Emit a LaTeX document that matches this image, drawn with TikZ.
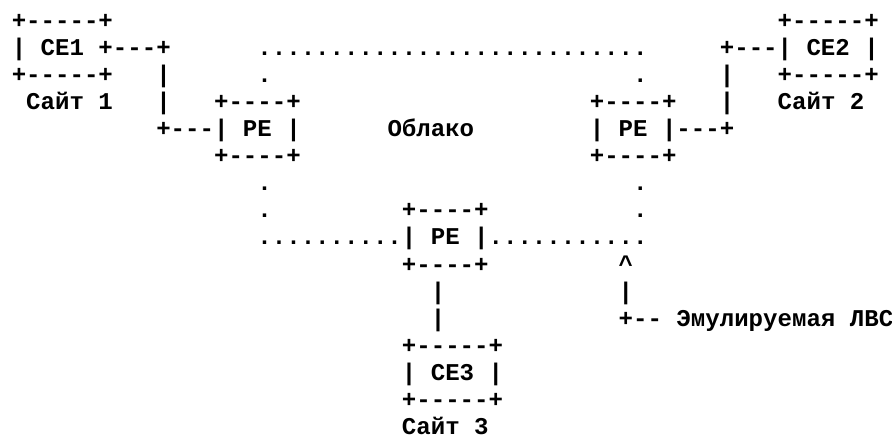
\documentclass[tikz,border=0pt]{standalone}
\usepackage{fontspec}
\setmonofont{Liberation Mono}[Ligatures=ResetAll]
\begin{document}
\begin{tikzpicture}[x=14.45pt,y=-27.09pt,
  txt/.style={anchor=base west,inner sep=0pt,outer sep=0pt,
    font=\fontsize{24.08}{27.09}\selectfont\ttfamily\bfseries,text=black}]
\useasboundingbox[fill=white] (0,0) rectangle (61.730,16.131);
\begin{scope}[shift={(0.8166,1.0410)}]
% row 1
\node[txt] (ce1t) at (0,0) {+-----+};
\node[txt] (ce2t) at (53,0) {+-----+};
% row 2
\node[txt] (ce1m) at (0,1) {| CE1 +---+};
\node[txt] (cloudt) at (17,1) {...........................};
\node[txt] (ce2m) at (49,1) {+---| CE2 |};
% row 3
\node[txt] (ce1b) at (0,2) {+-----+};
\node[txt] (l1a) at (10,2) {|};
\node[txt] (d1a) at (17,2) {.};
\node[txt] (d2a) at (43,2) {.};
\node[txt] (l2a) at (49,2) {|};
\node[txt] (ce2b) at (53,2) {+-----+};
% row 4
\node[txt] (site1) at (1,3) {Сайт 1};
\node[txt] (l1b) at (10,3) {|};
\node[txt] (pe1t) at (14,3) {+----+};
\node[txt] (pe2t) at (40,3) {+----+};
\node[txt] (l2b) at (49,3) {|};
\node[txt] (site2) at (53,3) {Сайт 2};
% row 5
\node[txt] (pe1m) at (10,4) {+---| PE |};
\node[txt] (cloud) at (26,4) {Облако};
\node[txt] (pe2m) at (40,4) {| PE |---+};
% row 6
\node[txt] (pe1b) at (14,5) {+----+};
\node[txt] (pe2b) at (40,5) {+----+};
% row 7
\node[txt] (d1b) at (17,6) {.};
\node[txt] (d2b) at (43,6) {.};
% row 8
\node[txt] (d1c) at (17,7) {.};
\node[txt] (pe3t) at (27,7) {+----+};
\node[txt] (d2c) at (43,7) {.};
% row 9
\node[txt] (pe3m) at (17,8) {..........| PE |...........};
% row 10
\node[txt] (pe3b) at (27,9) {+----+};
\node[txt] (arrow) at (42,9) {\char`\^};
% row 11
\node[txt] (l3a) at (29,10) {|};
\node[txt] (l4a) at (42,10) {|};
% row 12
\node[txt] (l3b) at (29,11) {|};
\node[txt] (elan) at (42,11) {+-- Эмулируемая ЛВС};
% row 13-16
\node[txt] (ce3t) at (27,12) {+-----+};
\node[txt] (ce3m) at (27,13) {| CE3 |};
\node[txt] (ce3b) at (27,14) {+-----+};
\node[txt] (site3) at (27,15) {Сайт 3};
\end{scope}
\end{tikzpicture}
\end{document}
